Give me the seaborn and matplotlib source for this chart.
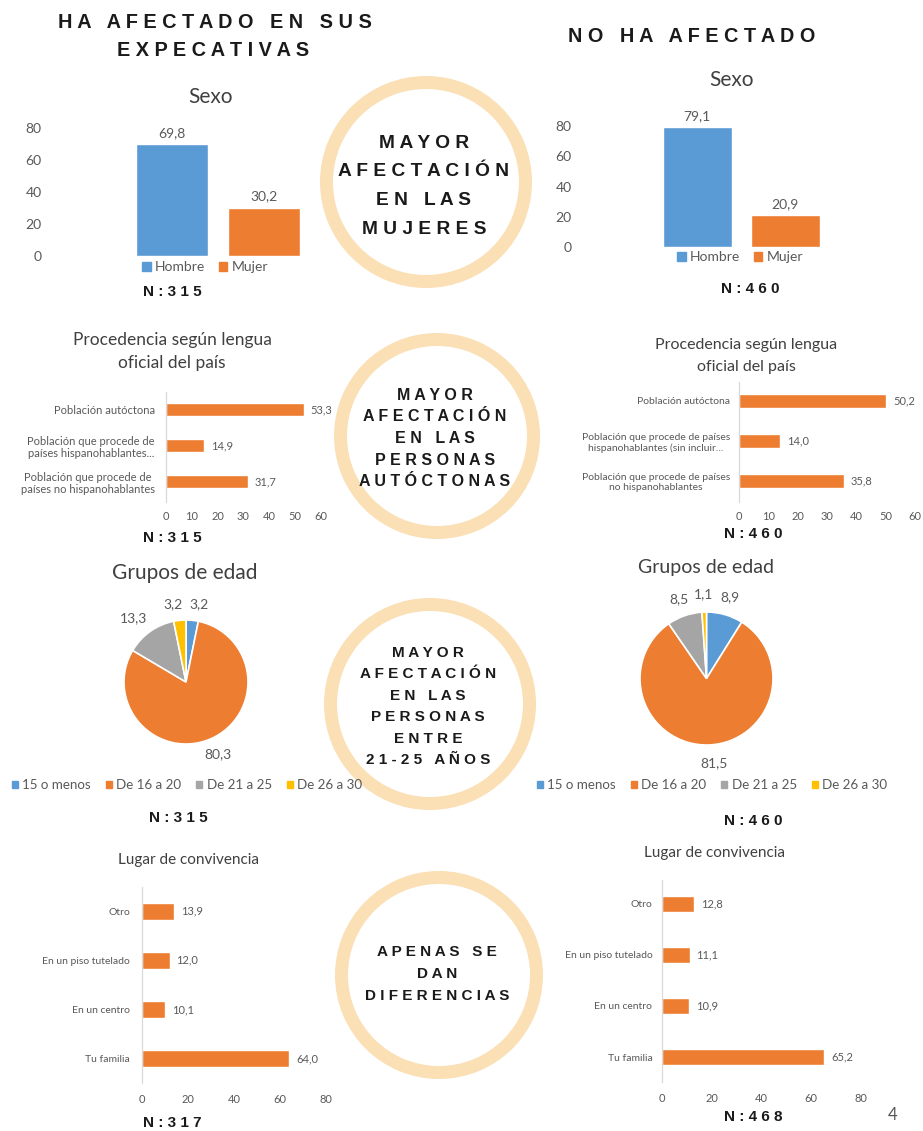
import pandas as pd
import matplotlib.pyplot as plt
import seaborn as sns
from matplotlib.patches import Annulus, Patch
import numpy as np

# ==========================================
# DATA
# ==========================================
sexo_cats = ['Hombre', 'Mujer']
sexo_afect = [69.8, 30.2]
sexo_no = [79.1, 20.9]

proc_cats_left = ['Población autóctona',
                  'Población que procede de\npaíses hispanohablantes...',
                  'Población que procede de\npaíses no hispanohablantes']
proc_cats_right = ['Población autóctona',
                   'Población que procede de países\nhispanohablantes (sin incluir...',
                   'Población que procede de países\nno hispanohablantes']
proc_afect = [53.3, 14.9, 31.7]
proc_no = [50.2, 14.0, 35.8]

edad_cats = ['15 o menos', 'De 16 a 20', 'De 21 a 25', 'De 26 a 30']
edad_afect = [3.2, 80.3, 13.3, 3.2]
edad_no = [8.9, 81.5, 8.5, 1.1]

lugar_cats = ['Otro', 'En un piso tutelado', 'En un centro', 'Tu familia']
lugar_afect = [13.9, 12.0, 10.1, 64.0]
lugar_no = [12.8, 11.1, 10.9, 65.2]

n_afect = ['N:315', 'N:315', 'N:315', 'N:317']
n_no = ['N:460', 'N:460', 'N:460', 'N:468']

header_left = ['HA AFECTADO EN SUS', 'EXPECATIVAS']
header_right = 'NO HA AFECTADO'
circle_texts = [['MAYOR', 'AFECTACIÓN', 'EN LAS', 'MUJERES'],
                ['MAYOR', 'AFECTACIÓN', 'EN LAS', 'PERSONAS', 'AUTÓCTONAS'],
                ['MAYOR', 'AFECTACIÓN', 'EN LAS', 'PERSONAS', 'ENTRE', '21-25 AÑOS'],
                ['APENAS SE', 'DAN', 'DIFERENCIAS']]

BLUE, ORANGE, GREY, YELLOW = '#5B9BD5', '#ED7D31', '#A5A5A5', '#FFC000'
RING = '#FBDFB5'
TXT = '#595959'
TITLE = '#404040'

# ==========================================
# FIGURE SETUP
# ==========================================
sns.set_theme(style='white')
plt.rcParams['font.family'] = ['Lato', 'DejaVu Sans']

W, H = 923, 1131
fig = plt.figure(figsize=(W / 100, H / 100), dpi=100)


def box(x0, y0, x1, y1):
    return [x0 / W, 1 - y1 / H, (x1 - x0) / W, (y1 - y0) / H]


def fmt(v):
    return f"{v:.1f}".replace('.', ',')


def spaced(s):
    return ' '.join(s)


# background layer in pixel coordinates (rings + free text)
bg = fig.add_axes([0, 0, 1, 1])
bg.set_xlim(0, W)
bg.set_ylim(H, 0)
bg.axis('off')

bold = dict(family=['Liberation Sans', 'DejaVu Sans'], weight='bold', color='#1a1a1a',
            ha='center', va='center')

bg.text(215, 22, spaced(header_left[0]), fontsize=14.3, **bold)
bg.text(213, 51, spaced(header_left[1]), fontsize=14.3, **bold)
bg.text(692, 36, spaced(header_right), fontsize=14.3, **bold)

# rings with their messages
rings = [(426, 182, 106, 13.8, 143, 28.7),
         (437, 436, 103, 11.5, 395, 21.7),
         (430, 704, 106, 11.0, 653, 21.4),
         (439, 975, 104, 11.0, 952, 22.0)]
for (cx, cy, r, fs, y0, step), lines in zip(rings, circle_texts):
    bg.add_patch(Annulus((cx, cy), r, 13, color=RING, lw=0))
    for i, line in enumerate(lines):
        bg.text(cx - 2, y0 + i * step, spaced(line), fontsize=fs, **bold)

# N labels
for (x, y), n in zip([(172, 292), (172, 538), (178, 818), (172, 1123)], n_afect):
    bg.text(x, y, spaced(n), fontsize=11, **bold)
for (x, y), n in zip([(750, 289), (753, 534), (753, 821), (753, 1117)], n_no):
    bg.text(x, y, spaced(n), fontsize=11, **bold)

# chart titles
tkw = dict(ha='center', va='center', color=TITLE)
bg.text(211, 97, 'Sexo', fontsize=15, **tkw)
bg.text(732, 80, 'Sexo', fontsize=15, **tkw)
bg.text(172, 340, 'Procedencia según lengua', fontsize=12.5, **tkw)
bg.text(172, 363, 'oficial del país', fontsize=12.5, **tkw)
bg.text(746, 345, 'Procedencia según lengua', fontsize=11.5, **tkw)
bg.text(746, 367, 'oficial del país', fontsize=11.5, **tkw)
bg.text(185, 573, 'Grupos de edad', fontsize=15, **tkw)
bg.text(706, 567, 'Grupos de edad', fontsize=14, **tkw)
bg.text(188, 860, 'Lugar de convivencia', fontsize=11, **tkw)
bg.text(715, 853, 'Lugar de convivencia', fontsize=11, **tkw)
bg.text(893, 1115, '4', fontsize=12, color='#555555', ha='center', va='center')


# ==========================================
# CHART HELPERS
# ==========================================
def sexo_chart(rect, values, xlim, legend_xy):
    ax = fig.add_axes(box(*rect))
    ax.set_facecolor('none')
    df = pd.DataFrame({'cat': sexo_cats, 'val': values})
    sns.barplot(data=df, x='cat', y='val', hue='cat', palette=[BLUE, ORANGE],
                saturation=1, width=0.78, legend=False, ax=ax)
    ax.set_xlim(xlim)
    ax.set_ylim(0, 80)
    ax.set_yticks([0, 20, 40, 60, 80])
    ax.set_xticks([])
    ax.set_xlabel('')
    ax.set_ylabel('')
    sns.despine(ax=ax, left=True, bottom=True)
    ax.tick_params(axis='y', length=0, labelsize=10, labelcolor=TXT, pad=3)
    for c in ax.containers:
        ax.bar_label(c, labels=[fmt(v) for v in c.datavalues], padding=4,
                     fontsize=10, color=TXT)
    ax.legend(handles=[Patch(color=BLUE), Patch(color=ORANGE)], labels=sexo_cats,
              loc='center', bbox_to_anchor=(legend_xy[0] / W, 1 - legend_xy[1] / H),
              bbox_transform=fig.transFigure, ncol=2, frameon=False, fontsize=10,
              handlelength=0.6, handleheight=0.6, handletextpad=0.3,
              columnspacing=1.0, labelcolor=TXT)


def hbar_chart(rect, cats, values, xmax, xticks, ylim, width, catsize, ypad, xpad):
    ax = fig.add_axes(box(*rect))
    ax.set_facecolor('none')
    df = pd.DataFrame({'cat': cats, 'val': values})
    sns.barplot(data=df, x='val', y='cat', orient='h', color=ORANGE,
                saturation=1, width=width, ax=ax)
    ax.set_xlim(0, xmax)
    ax.set_ylim(ylim)
    ax.set_xticks(xticks)
    ax.set_xlabel('')
    ax.set_ylabel('')
    for s in ['top', 'right', 'bottom']:
        ax.spines[s].set_visible(False)
    ax.spines['left'].set_color('#D9D9D9')
    ax.spines['left'].set_linewidth(0.9)
    ax.tick_params(axis='x', length=0, labelsize=8, labelcolor=TXT, pad=xpad)
    ax.tick_params(axis='y', length=0, labelsize=catsize, labelcolor=TXT, pad=ypad)
    for lbl in ax.get_yticklabels():
        lbl.set_multialignment('center')
    for c in ax.containers:
        ax.bar_label(c, labels=[fmt(v) for v in c.datavalues], padding=5,
                     fontsize=8, color=TXT)


def pie_chart(cx, cy, r, values, legend_xy):
    ax = fig.add_axes(box(cx - r, cy - r, cx + r, cy + r))
    wedges, _ = ax.pie(values, colors=[BLUE, ORANGE, GREY, YELLOW], startangle=90,
                       counterclock=False,
                       wedgeprops=dict(edgecolor='white', linewidth=1.2))
    ax.set_xlim(-1, 1)
    ax.set_ylim(-1, 1)
    for w, v in zip(wedges, values):
        th = np.deg2rad((w.theta1 + w.theta2) / 2)
        lx, ly = 1.27 * np.cos(th), 1.27 * np.sin(th)
        # small wedges near the top: push labels sideways so they do not collide
        if abs(np.cos(th)) < 0.2 and v >= 2:
            lx += 0.09 * np.sign(np.cos(th))
        if 2 < v < 20 and abs(np.cos(th)) > 0.4:
            lx *= 1.15
        ax.text(lx, ly, fmt(v), ha='center', va='center', fontsize=10,
                color=TXT, clip_on=False)
    ax.legend(handles=[Patch(color=c) for c in [BLUE, ORANGE, GREY, YELLOW]],
              labels=edad_cats, loc='center',
              bbox_to_anchor=(legend_xy[0] / W, 1 - legend_xy[1] / H),
              bbox_transform=fig.transFigure, ncol=4, frameon=False, fontsize=9.6,
              handlelength=0.45, handleheight=0.45, handletextpad=0.35,
              columnspacing=1.1, labelcolor=TXT)


# ==========================================
# DRAW
# ==========================================
sexo_chart((46, 128, 320, 256), sexo_afect, (-1.37, 1.61), (205, 267))
sexo_chart((576, 126, 845, 247), sexo_no, (-1.38, 1.68), (740, 257))

hbar_chart((166, 392, 321, 502), proc_cats_left, proc_afect, 60, range(0, 61, 10),
           (2.57, -0.49), 0.37, 8, 8, 6.5)
hbar_chart((739, 382, 915, 502), proc_cats_right, proc_no, 60, range(0, 61, 10),
           (2.525, -0.475), 0.35, 7.5, 6.5, 6.5)

pie_chart(186, 682, 62, edad_afect, (187, 785))
pie_chart(706.5, 678.5, 66.5, edad_no, (712, 785))

hbar_chart((142, 887, 326, 1083), lugar_cats, lugar_afect, 80, range(0, 81, 20),
           (3.49, -0.49), 0.34, 7.5, 8.5, 8)
hbar_chart((662, 880, 861, 1082), lugar_cats, lugar_no, 80, range(0, 81, 20),
           (3.49, -0.47), 0.33, 7.5, 7, 8)

fig.savefig('out.png', dpi=100, facecolor='white')
